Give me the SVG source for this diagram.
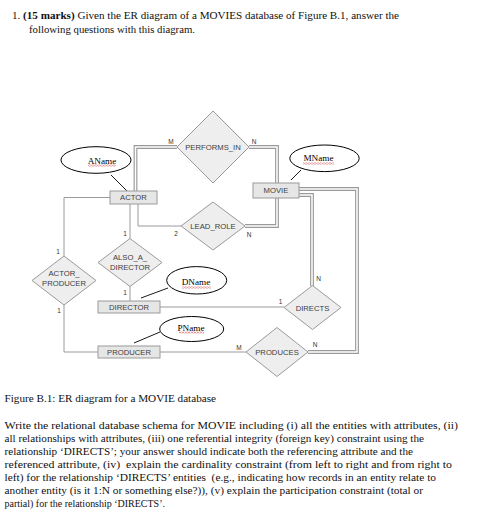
<svg xmlns="http://www.w3.org/2000/svg" width="478" height="512" viewBox="0 0 478 512">
<defs>
<pattern id="squig" width="3" height="2" patternUnits="userSpaceOnUse">
<path d="M0 0.3 L1.5 1.7 L3 0.3" fill="none" stroke="#d01010" stroke-width="0.6"/>
</pattern>
</defs>
<style>
.body{font-family:"Liberation Serif","Times New Roman",serif;font-size:10.4px;fill:#111;white-space:pre}
.ent{fill:#e6e6e6;stroke:#9a9a9a;stroke-width:1}
.rel{fill:#eeeeee;stroke:#9a9a9a;stroke-width:1}
.lbl{font-family:"Liberation Sans",Arial,sans-serif;font-size:7.7px;fill:#404040;text-anchor:middle;dominant-baseline:central}
.card{font-family:"Liberation Sans",Arial,sans-serif;font-size:6.5px;fill:#333;text-anchor:middle;dominant-baseline:central}
.attr{fill:#fff;stroke:#000;stroke-width:1}
.atxt{font-family:"Liberation Serif","Times New Roman",serif;font-size:9.2px;fill:#000;text-anchor:middle;dominant-baseline:central}
.single{fill:none;stroke:#9a9a9a;stroke-width:1}
.dbl-o{fill:none;stroke:#9a9a9a;stroke-width:3.8}
.dbl-i{fill:none;stroke:#fff;stroke-width:1.5}
.aline{stroke:#000;stroke-width:0.9}
</style>
<rect width="478" height="512" fill="#fff"/>
<text class="body" x="12" y="19" textLength="387" lengthAdjust="spacingAndGlyphs">1. <tspan font-weight="bold">(15 marks)</tspan> Given the ER diagram of a MOVIES database of Figure B.1, answer the</text>
<text class="body" x="29" y="33" textLength="166" lengthAdjust="spacingAndGlyphs">following questions with this diagram.</text>

<g id="connectors">
<path class="dbl-o" d="M135.5 191 V147 H177"/><path class="dbl-i" d="M135.5 191 V147 H177"/>
<path class="dbl-o" d="M249 147 H277 V183"/><path class="dbl-i" d="M249 147 H277 V183"/>
<path class="dbl-o" d="M277 198 V226 H245"/><path class="dbl-i" d="M277 198 V226 H245"/>
<path class="dbl-o" d="M299 195 H312 V286"/><path class="dbl-i" d="M299 195 H312 V286"/>
<path class="dbl-o" d="M299 189 H357 V352 H308"/><path class="dbl-i" d="M299 189 H357 V352 H308"/>
<path class="single" d="M130 204 V238.5"/>
<path class="single" d="M130 286.5 V301"/>
<path class="single" d="M138 204 V226 H181"/>
<path class="single" d="M110 197.5 H64 V256"/>
<path class="single" d="M64 305 V352 H98"/>
<path class="single" d="M160 307 H284"/>
<path class="single" d="M160 352 H246"/>
<line class="aline" x1="111" y1="175" x2="127" y2="191"/>
<line class="aline" x1="291" y1="180" x2="301" y2="170"/>
<line class="aline" x1="141" y1="298" x2="168" y2="288"/>
<line class="aline" x1="134" y1="343" x2="160" y2="332"/>
</g>

<g id="ACTOR"><rect class="ent" x="110" y="191" width="47" height="13"/><text class="lbl" x="133.5" y="197.5">ACTOR</text></g>
<g id="MOVIE"><rect class="ent" x="253" y="183" width="46" height="15"/><text class="lbl" x="276" y="190.5">MOVIE</text></g>
<g id="DIRECTOR"><rect class="ent" x="98" y="301" width="62" height="12"/><text class="lbl" x="129" y="307">DIRECTOR</text></g>
<g id="PRODUCER"><rect class="ent" x="98" y="346" width="62" height="12"/><text class="lbl" x="129" y="352">PRODUCER</text></g>

<g id="PERFORMS_IN"><polygon class="rel" points="213,111 249,147 213,183 177,147"/><text class="lbl" x="213" y="147.5">PERFORMS_IN</text>
<text class="card" x="171" y="141">M</text><text class="card" x="254" y="141">N</text></g>
<g id="LEAD_ROLE"><polygon class="rel" points="213,202 245,226 213,250 181,226"/><text class="lbl" x="213" y="226">LEAD_ROLE</text>
<text class="card" x="176" y="233">2</text><text class="card" x="249" y="234">N</text></g>
<g id="ALSO_A_DIRECTOR"><polygon class="rel" points="130,238.5 162,262.5 130,286.5 98,262.5"/><text class="lbl" x="130" y="257">ALSO_A_</text><text class="lbl" x="130" y="267">DIRECTOR</text>
<text class="card" x="125" y="233">1</text><text class="card" x="125" y="292">1</text></g>
<g id="ACTOR_PRODUCER"><polygon class="rel" points="64,256 96,280.5 64,305 32,280.5"/><text class="lbl" x="64" y="273.5">ACTOR_</text><text class="lbl" x="64" y="283.5">PRODUCER</text>
<text class="card" x="58" y="251.5">1</text><text class="card" x="59" y="310.5">1</text></g>
<g id="DIRECTS"><polygon class="rel" points="312.5,285.5 341,307.5 312.5,329.5 284,307.5"/><text class="lbl" x="312.5" y="308">DIRECTS</text>
<text class="card" x="280.5" y="301.5">1</text><text class="card" x="318.5" y="278.5">N</text></g>
<g id="PRODUCES"><polygon class="rel" points="277,327.5 308,352 277,376.5 246,352"/><text class="lbl" x="277" y="352">PRODUCES</text>
<text class="card" x="239" y="347">M</text><text class="card" x="315" y="344.5">N</text></g>

<g id="AName"><ellipse class="attr" cx="96" cy="160" rx="35" ry="13.3"/><text class="atxt" x="102" y="160.5">AName</text><rect x="88" y="164.5" width="28" height="2" fill="url(#squig)"/></g>
<g id="MName"><ellipse class="attr" cx="324.5" cy="158.3" rx="34.7" ry="13.3"/><text class="atxt" x="318.5" y="158">MName</text><rect x="303" y="162.5" width="31" height="2" fill="url(#squig)"/></g>
<g id="DName"><ellipse class="attr" cx="196.7" cy="280.3" rx="30" ry="13.7"/><text class="atxt" x="196" y="282">DName</text><rect x="182" y="286.5" width="29" height="2" fill="url(#squig)"/></g>
<g id="PName"><ellipse class="attr" cx="191.7" cy="329" rx="32" ry="12.5"/><text class="atxt" x="191" y="328" font-size="8.5">PName</text><rect x="179" y="331.5" width="25" height="2" fill="url(#squig)"/></g>

<text class="body" x="4.5" y="402" textLength="211.5" lengthAdjust="spacingAndGlyphs">Figure B.1: ER diagram for a MOVIE database</text>
<text class="body" x="4.5" y="429" textLength="453.5" lengthAdjust="spacingAndGlyphs">Write the relational database schema for MOVIE including (i) all the entities with attributes, (ii)</text>
<text class="body" x="4.5" y="442" textLength="419.5" lengthAdjust="spacingAndGlyphs">all relationships with attributes, (iii) one referential integrity (foreign key) constraint using the</text>
<text class="body" x="4.5" y="455" textLength="408.5" lengthAdjust="spacingAndGlyphs">relationship ‘DIRECTS’; your answer should indicate both the referencing attribute and the</text>
<text class="body" x="4.5" y="468" textLength="447.5" lengthAdjust="spacingAndGlyphs">referenced attribute, (iv)  explain the cardinality constraint (from left to right and from right to</text>
<text class="body" x="4.5" y="481" textLength="431.5" lengthAdjust="spacingAndGlyphs">left) for the relationship ‘DIRECTS’ entities  (e.g., indicating how records in an entity relate to</text>
<text class="body" x="4.5" y="494" textLength="418.5" lengthAdjust="spacingAndGlyphs">another entity (is it 1:N or something else?)), (v) explain the participation constraint (total or</text>
<text class="body" x="4.5" y="507" textLength="160.5" lengthAdjust="spacingAndGlyphs">partial) for the relationship ‘DIRECTS’.</text>
</svg>
